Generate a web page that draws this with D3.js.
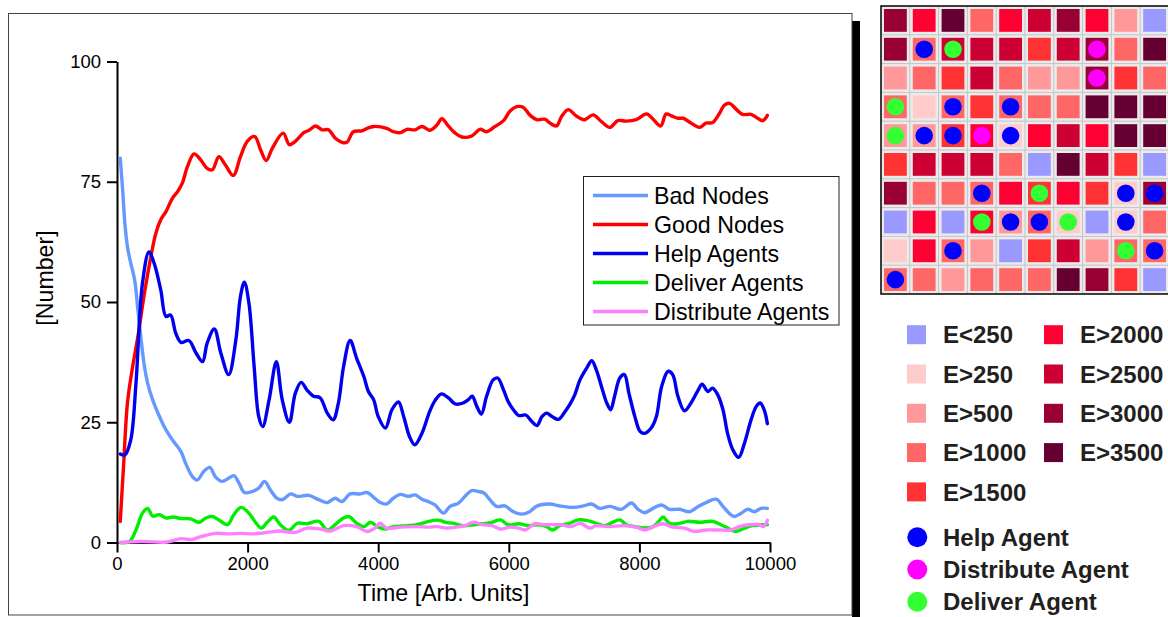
<!DOCTYPE html>
<html>
<head>
<meta charset="utf-8">
<script src="https://cdn.jsdelivr.net/npm/d3@7"></script>
<style>
html,body{margin:0;padding:0;background:#fff;}
svg{display:block;}
text{font-family:"Liberation Sans",Arial,sans-serif;}
</style>
</head>
<body>
<svg id="chart" width="1168" height="617"></svg>
<script>
// ---------------- DATA ----------------
const seriesNames = ["Bad Nodes","Good Nodes","Help Agents","Deliver Agents","Distribute Agents"];
const seriesColors = ["#6699ff","#ff0000","#0000ee","#00ee00","#ff80ff"];
const xTicks = [0,2000,4000,6000,8000,10000];
const xMinorTicks = [1000,3000,5000,7000,9000];
const yTicks = [0,25,50,75,100];
const yMinorTicks = [12.5,37.5,62.5,87.5];

const badNodes = [[50,79.9],[90,72.6],[120,66.4],[160,61.5],[210,58.1],[270,54.6],[320,48.4],[370,42.1],[420,36.6],[470,33.1],[545,29.7],[650,26.2],[750,23.4],[850,21.3],[980,18.9],[1050,16.5],[1155,13.7],[1230,13],[1330,14.8],[1420,15.6],[1510,13.6],[1610,12.7],[1715,13.4],[1790,13.9],[1870,12.3],[1950,10.4],[2070,10.6],[2170,11.3],[2260,12.7],[2350,10.9],[2450,9.2],[2530,8.9],[2660,10.1],[2760,9.6],[2940,9.8],[3090,8.9],[3220,8.3],[3340,9.2],[3445,8.5],[3570,10.1],[3725,10.1],[3830,10.4],[3930,9.4],[4030,8.3],[4130,8],[4230,9.2],[4340,10],[4460,9.6],[4565,9.9],[4670,9],[4770,8.5],[4870,7.8],[5000,6.1],[5100,7.5],[5230,8.2],[5330,9.6],[5430,10.8],[5535,10.6],[5620,10.3],[5710,8.9],[5815,7.5],[5940,7.6],[6070,6.4],[6200,5.9],[6320,6.4],[6430,7.6],[6630,8],[6780,7.6],[6990,7.3],[7140,7.6],[7270,8],[7390,7.1],[7550,7.5],[7720,6.9],[7880,8.2],[7980,6.9],[8080,6.2],[8210,7.1],[8340,7.8],[8460,6.9],[8615,6.9],[8770,6.4],[8900,7.5],[9020,8.3],[9175,9],[9280,7.5],[9380,6],[9455,5.4],[9560,6.1],[9660,6.9],[9760,6.4],[9860,7.1],[9960,7.1]];

const goodNodes = [[50,4.4],[100,15.8],[160,29],[240,36.6],[320,42.8],[420,51.8],[520,59.5],[595,64.3],[670,67.1],[750,68.8],[850,71.6],[930,73],[1000,74.7],[1080,78.2],[1180,80.8],[1280,79.6],[1380,77.8],[1460,77.5],[1560,80.2],[1660,78.5],[1780,76.3],[1890,80.2],[1995,83.4],[2110,84.4],[2200,81.6],[2285,79.4],[2380,82],[2545,85.1],[2640,82.7],[2730,83.4],[2860,85.2],[2940,85.7],[3040,86.6],[3140,85.8],[3240,85.8],[3340,84.1],[3445,83.2],[3520,83.2],[3620,85.4],[3750,85.6],[3830,86.1],[3930,86.5],[4130,86.1],[4230,85.4],[4340,85.2],[4440,85.9],[4565,85.8],[4670,86.5],[4795,85.7],[4900,86.8],[4975,88.1],[5080,86.5],[5180,85.1],[5280,84.3],[5430,84.5],[5560,85.9],[5660,85.4],[5790,86.5],[5920,87.7],[6020,89.7],[6120,90.6],[6220,90.5],[6320,88.9],[6430,87.9],[6550,88],[6630,87.2],[6730,86.6],[6810,88.6],[6910,90],[7040,88.6],[7160,87.9],[7290,88.9],[7420,87.5],[7545,86.3],[7670,87.7],[7800,87.6],[7950,87.9],[8110,89.1],[8210,88],[8325,86.6],[8410,89.1],[8490,88.7],[8590,88.2],[8670,88.2],[8790,87.2],[8920,86.3],[9020,87.2],[9120,87.3],[9230,89.3],[9300,90.9],[9380,91.3],[9480,90.1],[9580,89],[9710,89],[9810,88.2],[9890,87.7],[9960,88.8]];

const helpAgents = [[50,18.4],[120,18.2],[210,21.3],[290,33],[390,53.9],[490,60.4],[570,58],[670,52.5],[750,47],[820,47.3],[900,43.5],[980,41.6],[1100,42],[1210,39.4],[1310,37.6],[1380,41.4],[1490,44.4],[1590,39.4],[1710,34.9],[1820,42.1],[1890,51.1],[1950,54.1],[2020,49.8],[2100,36.6],[2170,26.2],[2230,24.1],[2330,29.7],[2440,37.6],[2530,29.7],[2640,25],[2730,31],[2820,33.3],[2910,31.7],[3010,30.4],[3110,30.1],[3220,26.9],[3310,25.5],[3390,29],[3470,36.6],[3570,42],[3670,38.3],[3780,34.5],[3850,31.4],[3930,29.7],[4000,26.2],[4110,23.8],[4210,27.6],[4310,29.2],[4390,26.2],[4480,22],[4560,20.3],[4670,22.7],[4790,27.3],[4870,29.5],[4970,30.9],[5080,30],[5180,28.8],[5300,29],[5380,29.7],[5440,30.4],[5510,28.3],[5580,26.7],[5660,30.4],[5760,33.8],[5830,34.2],[5920,31.7],[5990,29.3],[6070,27.6],[6150,26.4],[6260,26.5],[6350,25.2],[6430,24.3],[6510,26.2],[6580,26.9],[6660,26.2],[6760,25.6],[6860,27.2],[6930,28.6],[7010,30.7],[7090,33.8],[7190,36.2],[7270,37.8],[7340,35.9],[7420,32.4],[7500,29],[7560,27.6],[7620,30.4],[7700,34.2],[7770,34.9],[7840,31],[7930,26.2],[8010,23.1],[8080,22.7],[8180,23.8],[8260,26.2],[8340,32.4],[8440,35.6],[8510,34.9],[8590,30.4],[8690,27.4],[8790,29],[8900,31.7],[8960,32.9],[9050,31.4],[9120,32.1],[9200,30.7],[9280,27.6],[9350,22.7],[9430,19.3],[9520,17.7],[9610,20.7],[9710,25.5],[9790,28.3],[9850,29],[9910,27.6],[9960,24.7]];

const deliverAgents = [[50,0],[190,0.2],[290,2.6],[390,6.1],[470,7.1],[545,5.5],[650,5.8],[750,5.1],[850,5.3],[980,5],[1130,4.9],[1260,4.2],[1360,5.1],[1460,5.4],[1560,4.7],[1690,3.7],[1790,5.8],[1900,7.3],[2020,6.1],[2110,4.4],[2210,3],[2300,4.2],[2400,5.3],[2500,3.7],[2630,2.5],[2760,4],[2910,3.9],[3090,4.4],[3220,2.6],[3340,3.7],[3445,4.9],[3550,5.4],[3670,4],[3780,3.3],[3880,4.2],[4000,3.2],[4110,2.8],[4230,3.3],[4440,3.5],[4590,3.7],[4720,4.2],[4850,4.6],[4950,4.6],[5030,4.2],[5150,4],[5300,3.5],[5460,3.7],[5610,3.9],[5740,4.2],[5870,4.7],[5990,3.7],[6150,3.9],[6300,3.5],[6450,3.7],[6580,3.3],[6670,2.6],[6780,3.5],[6930,4],[7060,4.7],[7190,4.6],[7340,4],[7470,3.5],[7590,4.2],[7700,4.7],[7800,3.7],[7930,3.3],[8080,3],[8210,3.3],[8310,4.6],[8360,5.3],[8460,4],[8590,3.9],[8740,4.4],[8920,4.2],[9120,4.4],[9250,3.7],[9380,2.8],[9480,2.3],[9610,3],[9730,3.5],[9860,3.7],[9960,3.7]];

const distributeAgents = [[50,0],[370,0.2],[770,0.1],[980,0.8],[1130,0.6],[1280,1.2],[1510,1.9],[1690,1.8],[1890,1.9],[2100,1.8],[2300,2.1],[2500,2.4],[2730,2.1],[2910,3],[3110,2.8],[3270,2.4],[3470,3.5],[3670,3.3],[3830,2.3],[3950,3],[4030,4],[4130,3],[4340,3.2],[4590,3.3],[4770,3.2],[4900,3.3],[5050,3],[5200,3.2],[5330,3.5],[5460,4.2],[5590,3.7],[5740,3.5],[5870,2.8],[6020,3.2],[6150,3],[6250,2.6],[6400,3.9],[6550,3.7],[6780,3.7],[6960,3.3],[7090,4],[7240,3],[7340,3.5],[7550,3.3],[7750,3.5],[7950,3.2],[8080,2.6],[8210,3.3],[8360,3.9],[8510,3.2],[8690,3],[8840,2.3],[9020,2.6],[9230,2.6],[9400,2.6],[9530,3.3],[9680,3.7],[9840,3.7],[9900,3.3],[9960,4.6]];

const seriesData = [badNodes, goodNodes, helpAgents, deliverAgents, distributeAgents];

// Network snapshot: energy level index per cell (10x10)
const energyLabels = ["E<250","E>250","E>500","E>1000","E>1500","E>2000","E>2500","E>3000","E>3500"];
const energyColors = ["#9999ff","#ffcccc","#ff9999","#ff6666","#ff3333","#ff0033","#cc0033","#990033","#660033"];
const gridEnergy = [
  [7,5,8,3,5,6,7,5,2,0],
  [7,3,6,6,6,4,6,7,3,8],
  [2,3,4,6,3,2,2,7,4,3],
  [3,1,3,4,3,3,3,8,8,8],
  [2,2,4,5,1,5,6,5,8,8],
  [4,6,6,6,3,0,8,6,4,0],
  [7,3,3,3,5,4,5,4,1,7],
  [0,5,0,5,2,3,1,0,1,3],
  [1,5,3,2,0,4,6,2,3,3],
  [3,3,2,3,3,3,8,7,4,0]
];
// agents: [row, col, type]  type: 0 Help, 1 Distribute, 2 Deliver
const agentLabels = ["Help Agent","Distribute Agent","Deliver Agent"];
const agentColors = ["#0000ff","#ff00ff","#33ff33"];
const gridAgents = [
  [1,1,0],[1,2,2],[1,7,1],
  [2,7,1],
  [3,0,2],[3,2,0],[3,4,0],
  [4,0,2],[4,1,0],[4,2,0],[4,3,1],[4,4,0],
  [6,3,0],[6,5,2],[6,8,0],[6,9,0],
  [7,3,2],[7,4,0],[7,5,0],[7,6,2],[7,8,0],
  [8,2,0],[8,8,2],[8,9,0],
  [9,0,0]
];

// ---------------- DRAW ----------------
const svg = d3.select("#chart");

// Frame with shadow
svg.append("rect").attr("x",852).attr("y",21).attr("width",8).attr("height",600).attr("fill","#000");
svg.append("rect").attr("x",8.5).attr("y",13.5).attr("width",843.5).attr("height",601.5)
  .attr("fill","#fff").attr("stroke","#444").attr("stroke-width",1);

const x = d3.scaleLinear().domain([0,10000]).range([117,770]);
const y = d3.scaleLinear().domain([0,100]).range([542.5,61.5]);

// axes
const gx = svg.append("g").attr("transform","translate(0,542.5)");
gx.call(d3.axisBottom(x).tickValues(xMinorTicks).tickSize(5).tickSizeOuter(0).tickFormat(""));
gx.call(d3.axisBottom(x).tickValues(xTicks).tickSize(10).tickSizeOuter(0).tickFormat(d3.format("d")));
const gy = svg.append("g").attr("transform","translate(117,0)");
gy.call(d3.axisLeft(y).tickValues(yMinorTicks).tickSize(5).tickSizeOuter(0).tickFormat(""));
gy.call(d3.axisLeft(y).tickValues(yTicks).tickSize(10).tickSizeOuter(0).tickFormat(d3.format("d")));

svg.selectAll(".domain").attr("stroke","#000").attr("stroke-width",2);
svg.selectAll(".tick line").attr("stroke","#000").attr("stroke-width",2);
gx.selectAll(".tick text").attr("font-size",18.5).attr("font-family","Liberation Sans, Arial, sans-serif").attr("fill","#000").attr("y",14).attr("dy","0.71em");
gy.selectAll(".tick text").attr("font-size",18.5).attr("font-family","Liberation Sans, Arial, sans-serif").attr("fill","#000").attr("x",-16);

// axis titles
svg.append("text").attr("x",443.5).attr("y",601).attr("text-anchor","middle")
  .attr("font-size",23.2).attr("fill","#000").text("Time [Arb. Units]");
svg.append("text").attr("transform","translate(53,278) rotate(-90)").attr("text-anchor","middle")
  .attr("font-size",23.2).attr("fill","#000").text("[Number]");

// lines
const line = d3.line().x(d=>x(d[0])).y(d=>y(d[1])).curve(d3.curveCatmullRom.alpha(0.5));
const drawOrder = [0,1,3,4,2];
drawOrder.forEach(i=>{
  svg.append("path").datum(seriesData[i]).attr("d",line)
    .attr("fill","none").attr("stroke",seriesColors[i]).attr("stroke-width",3.4)
    .attr("stroke-linejoin","round").attr("stroke-linecap","round");
});

// legend
const lg = svg.append("g");
lg.append("rect").attr("x",583.5).attr("y",176.5).attr("width",255.5).attr("height",148.5)
  .attr("fill","#fff").attr("stroke","#222").attr("stroke-width",1);
seriesNames.forEach((n,i)=>{
  const cy = 195.5 + i*29;
  lg.append("line").attr("x1",593).attr("x2",648).attr("y1",cy).attr("y2",cy)
    .attr("stroke",seriesColors[i]).attr("stroke-width",3.4);
  lg.append("text").attr("x",654).attr("y",cy).attr("dy","0.36em").attr("font-size",23.2)
    .attr("fill","#000").text(n);
});

// ---------------- GRID SNAPSHOT ----------------
const gsize = 288, gx0 = 881, gy0 = 6;
const col = d3.scaleBand().domain(d3.range(10)).range([gx0, gx0+gsize]);
const row = d3.scaleBand().domain(d3.range(10)).range([gy0, gy0+gsize]);
const gg = svg.append("g");
gg.append("rect").attr("x",gx0).attr("y",gy0).attr("width",gsize).attr("height",gsize).attr("fill","#eeeaea");
d3.range(1,10).forEach(k=>{
  gg.append("line").attr("x1",col(k)).attr("x2",col(k)).attr("y1",gy0).attr("y2",gy0+gsize).attr("stroke","#bcc6cc").attr("stroke-width",1);
  gg.append("line").attr("y1",row(k)).attr("y2",row(k)).attr("x1",gx0).attr("x2",gx0+gsize).attr("stroke","#bcc6cc").attr("stroke-width",1);
});
const inset = 3;
gridEnergy.forEach((r,ri)=>{
  r.forEach((e,ci)=>{
    gg.append("rect").attr("x",col(ci)+inset).attr("y",row(ri)+inset)
      .attr("width",col.bandwidth()-2*inset).attr("height",row.bandwidth()-2*inset)
      .attr("fill",energyColors[e]);
  });
});
gridAgents.forEach(a=>{
  gg.append("circle").attr("cx",col(a[1])+col.bandwidth()/2).attr("cy",row(a[0])+row.bandwidth()/2)
    .attr("r",8.8).attr("fill",agentColors[a[2]]);
});
gg.append("rect").attr("x",gx0).attr("y",gy0).attr("width",gsize).attr("height",gsize)
  .attr("fill","none").attr("stroke","#000").attr("stroke-width",1.5);

// energy legend
const el = svg.append("g");
energyLabels.forEach((lab,i)=>{
  const c = i<5 ? 0 : 1;
  const r = i<5 ? i : i-5;
  const sx = c===0 ? 907 : 1044;
  const cy = 334.7 + r*39.3;
  el.append("rect").attr("x",sx).attr("y",cy-9.5).attr("width",19).attr("height",19).attr("fill",energyColors[i]);
  el.append("text").attr("x",sx+36).attr("y",cy).attr("dy","0.36em").attr("font-size",24)
    .attr("font-weight","bold").attr("fill","#231f20").text(lab);
});
agentLabels.forEach((lab,i)=>{
  const cy = 537.3 + i*32.2;
  el.append("circle").attr("cx",917.3).attr("cy",cy).attr("r",10).attr("fill",agentColors[i]);
  el.append("text").attr("x",943).attr("y",cy).attr("dy","0.36em").attr("font-size",24)
    .attr("font-weight","bold").attr("fill","#231f20").text(lab);
});
</script>
</body>
</html>
